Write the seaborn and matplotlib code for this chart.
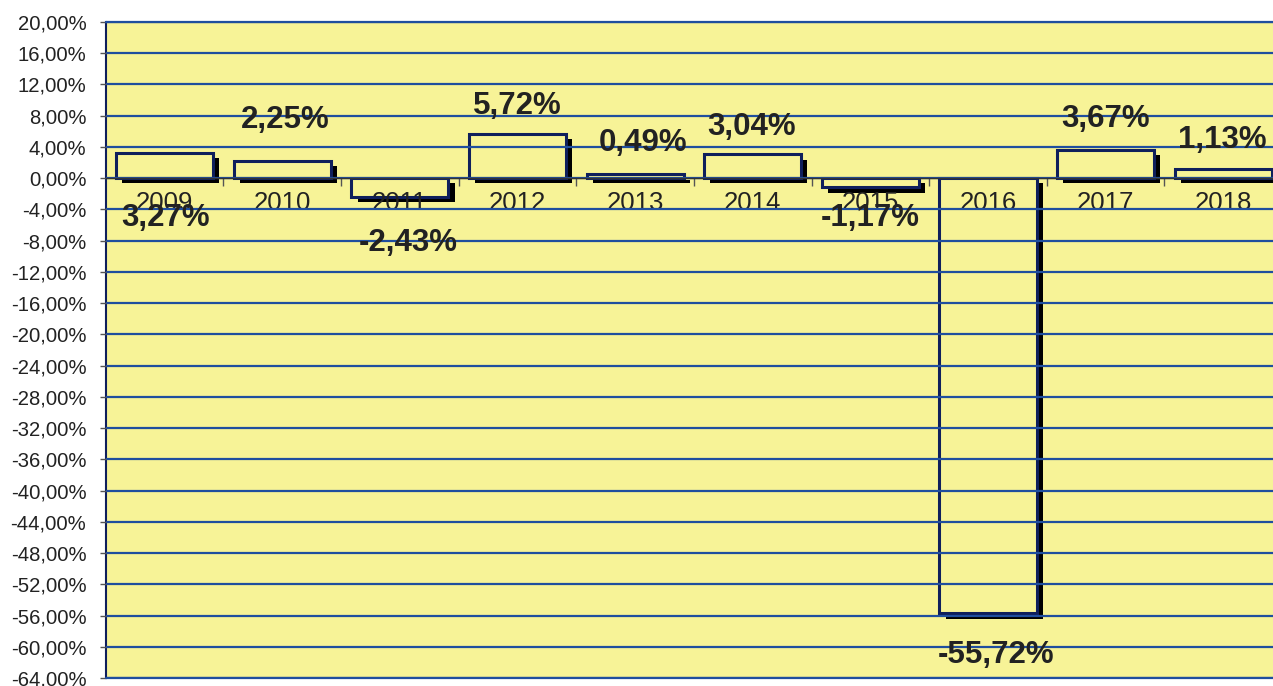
import matplotlib
matplotlib.use("Agg")
import matplotlib.pyplot as plt
import matplotlib.patheffects as pe
from matplotlib.ticker import FixedLocator, FuncFormatter
import seaborn as sns
import pandas as pd

# Year-over-year change, in percent
years = ["2009", "2010", "2011", "2012", "2013", "2014", "2015", "2016", "2017", "2018"]
changes = [3.27, 2.25, -2.43, 5.72, 0.49, 3.04, -1.17, -55.72, 3.67, 1.13]
value_labels = ["3,27%", "2,25%", "-2,43%", "5,72%", "0,49%", "3,04%", "-1,17%", "-55,72%", "3,67%", "1,13%"]

# Where each value label sits (x shift in category units, y in percent)
label_dx = [0.01, 0.03, 0.07, 0.0, 0.07, -0.01, 0.0, 0.07, 0.0, -0.01]
label_y = [-5.1, 7.4, -8.3, 9.2, 4.5, 6.5, -5.1, -61.1, 7.55, 4.9]

YMIN, YMAX, YSTEP = -64, 20, 4

BG = "#F7F397"
GRID = "#1F4E9E"
NAVY = "#0F1F5C"

sns.set_theme(style="white")
plt.rcParams["font.family"] = ["Liberation Sans", "DejaVu Sans"]

df = pd.DataFrame({"year": years, "change": changes})

fig = plt.figure(figsize=(12.73, 6.86), dpi=100)
# the plot area runs slightly past the right edge of the canvas
ax = fig.add_axes([105.7 / 1273, 8 / 686, 1176.4 / 1273, (678 - 22) / 686])
ax.set_facecolor(BG)

sns.barplot(data=df, x="year", y="change", color=BG, saturation=1,
            edgecolor=NAVY, linewidth=2.2, width=0.825, ax=ax)

for bar in ax.patches:
    bar.set_facecolor(BG)
    bar.set_path_effects([
        pe.SimplePatchShadow(offset=(4.5, -3.8), shadow_rgbFace="black", alpha=1.0),
        pe.Normal(),
    ])

ax.set_ylim(YMIN, YMAX)
ax.set_xlim(-0.5, len(years) - 0.5)
yt = list(range(YMIN, YMAX + 1, YSTEP))
ax.set_yticks(yt)
ax.yaxis.set_major_formatter(FuncFormatter(lambda v, p: f"{v:.2f}%".replace(".", ",")))
ax.tick_params(axis="y", which="major", length=4, width=1, color="#555555",
               labelsize=14.6, labelcolor="#222222", pad=10, left=True)

# horizontal grid on top of bars
ax.set_axisbelow(False)
ax.yaxis.grid(True, color=GRID, linewidth=1.6)
ax.xaxis.grid(False)
ax.axhline(YMIN, color=GRID, linewidth=1.6, clip_on=False, zorder=3)
ax.axhline(YMAX, color=GRID, linewidth=1.6, clip_on=False, zorder=3)

# category axis sits on the zero line
ax.spines["bottom"].set_position(("data", 0))
ax.spines["bottom"].set_color("#333333")
ax.spines["bottom"].set_linewidth(1.0)
ax.spines["bottom"].set_zorder(3.5)
ax.spines["left"].set_color(NAVY)
ax.spines["left"].set_linewidth(1.5)
ax.spines["top"].set_visible(False)
ax.spines["right"].set_visible(False)

ax.xaxis.set_minor_locator(FixedLocator([i + 0.5 for i in range(len(years) - 1)]))
ax.tick_params(axis="x", which="minor", length=6, width=1, color="#555555", bottom=True, direction="out")
ax.tick_params(axis="x", which="major", length=0, labelsize=18.5, labelcolor="#222222", pad=9)
ax.set_xlabel("")
ax.set_ylabel("")

for i, (txt, dx, y) in enumerate(zip(value_labels, label_dx, label_y)):
    ax.text(i + dx, y, txt, ha="center", va="center", fontsize=22.5,
            fontweight="bold", color="#222222", zorder=5)

fig.savefig("out.png", dpi=100, facecolor="white")
